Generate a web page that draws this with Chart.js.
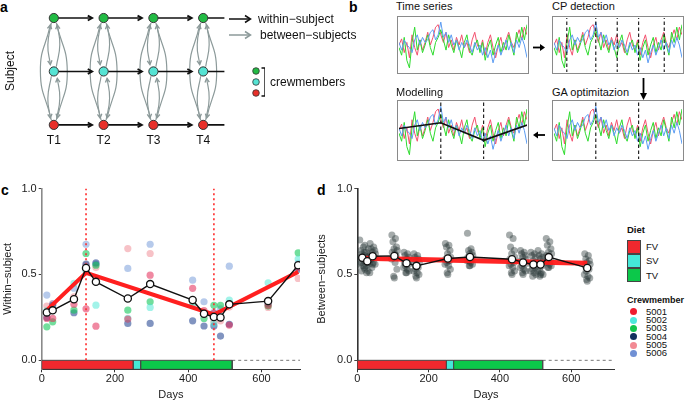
<!DOCTYPE html>
<html><head><meta charset="utf-8">
<script src="https://cdn.jsdelivr.net/npm/chart.js@4.4.1/dist/chart.umd.min.js"></script>
<style>
body{margin:0;width:685px;height:403px;position:relative;overflow:hidden;background:#fff;font-family:"Liberation Sans",Arial,sans-serif;color:#111}
.abs{position:absolute}
.t{position:absolute;font-size:11px;white-space:nowrap;line-height:12px;color:#111}
.pl{position:absolute;font-weight:bold;font-size:14px;line-height:14px;color:#000}
.mini{position:absolute;border:1px solid #8a8a8a;box-sizing:border-box;background:#fff}
.mini canvas{display:block}
.lgb{position:absolute;font-weight:bold;font-size:9px;line-height:10px;white-space:nowrap}
.lgt{position:absolute;font-size:9.5px;line-height:10px;white-space:nowrap}
.box{position:absolute;left:626.5px;width:14px;height:14px;border:1px solid #444;box-sizing:border-box}
.dot{position:absolute;width:7px;height:7px;border-radius:50%;left:630px}
</style></head><body>

<!-- panel letters -->
<div class="pl" style="left:0;top:0">a</div>
<div class="pl" style="left:349px;top:0">b</div>
<div class="pl" style="left:1px;top:183px">c</div>
<div class="pl" style="left:317px;top:183px">d</div>

<!-- panel a -->
<canvas id="ca" class="abs" width="230" height="170" style="left:0;top:0"></canvas>
<div class="t" style="left:10px;top:71px;font-size:12px;transform:translate(-50%,-50%) rotate(-90deg)">Subject</div>
<svg class="abs" style="left:225px;top:10px" width="40" height="95">
  <line x1="4" y1="9" x2="25" y2="9" stroke="#111" stroke-width="1.5"/>
  <polyline points="20,5.5 25.5,9 20,12.5" fill="none" stroke="#111" stroke-width="1.5"/>
  <line x1="4" y1="25" x2="25" y2="25" stroke="#8c9a9a" stroke-width="1.5"/>
  <polyline points="20,21.5 25.5,25 20,28.5" fill="none" stroke="#8c9a9a" stroke-width="1.5"/>
  <circle cx="31" cy="61" r="3.3" fill="#22bb44" stroke="#333" stroke-width="0.8"/>
  <circle cx="31" cy="72" r="3.3" fill="#55e3d3" stroke="#333" stroke-width="0.8"/>
  <circle cx="31" cy="83" r="3.3" fill="#e8302a" stroke="#333" stroke-width="0.8"/>
  <polyline points="36.5,58 40,58 40,86 36.5,86" fill="none" stroke="#111" stroke-width="1.4"/>
</svg>
<div class="t" style="left:258px;top:13px;font-size:12px">within−subject</div>
<div class="t" style="left:260px;top:29px;font-size:12px">between−subjects</div>
<div class="t" style="left:270px;top:76px;font-size:12px">crewmembers</div>

<!-- panel b -->
<div class="t" style="left:396px;top:0px">Time series</div>
<div class="t" style="left:552px;top:0px">CP detection</div>
<div class="t" style="left:396px;top:86px">Modelling</div>
<div class="t" style="left:552px;top:86px">GA optimitazion</div>
<div class="mini" style="left:396.5px;top:15.5px;width:132px;height:58px"><canvas id="b1" width="130" height="56"></canvas></div>
<div class="mini" style="left:552px;top:15.5px;width:132px;height:58px"><canvas id="b2" width="130" height="56"></canvas></div>
<div class="mini" style="left:396.5px;top:100px;width:132px;height:61px"><canvas id="b3" width="130" height="59"></canvas></div>
<div class="mini" style="left:552px;top:100px;width:132px;height:61px"><canvas id="b4" width="130" height="59"></canvas></div>
<svg class="abs" style="left:528px;top:38px" width="125" height="105">
  <line x1="5" y1="9.5" x2="14" y2="9.5" stroke="#000" stroke-width="1.8"/>
  <polygon points="12,6 17,9.5 12,13" fill="#000"/>
  <line x1="115.5" y1="40" x2="115.5" y2="57" stroke="#000" stroke-width="1.8"/>
  <polygon points="112,55 115.5,62 119,55" fill="#000"/>
  <line x1="8" y1="97" x2="17" y2="97" stroke="#000" stroke-width="1.8"/>
  <polygon points="10,93.5 5,97 10,100.5" fill="#000"/>
</svg>

<!-- panel c / d -->
<canvas id="cc" class="abs" width="315" height="223" style="left:0;top:180px"></canvas>
<canvas id="cd" class="abs" width="305" height="223" style="left:315px;top:180px"></canvas>

<!-- legend d -->
<div class="lgb" style="left:627px;top:225px;font-size:9.5px">Diet</div>
<div class="box" style="top:240px;background:#f0282e"></div>
<div class="box" style="top:254px;background:#44e8d8"></div>
<div class="box" style="top:268px;background:#0cc84a"></div>
<div class="lgt" style="left:646px;top:242px">FV</div>
<div class="lgt" style="left:646px;top:256px">SV</div>
<div class="lgt" style="left:646px;top:270.5px">TV</div>
<div class="lgb" style="left:627px;top:295px">Crewmember</div>
<div class="dot" style="top:308.2px;background:#ee1c2e"></div>
<div class="dot" style="top:316.5px;background:#4ee8dc"></div>
<div class="dot" style="top:324.8px;background:#12c44c"></div>
<div class="dot" style="top:333.2px;background:#12305e"></div>
<div class="dot" style="top:341.5px;background:#f28a94"></div>
<div class="dot" style="top:349.8px;background:#7090d4"></div>
<div class="lgt" style="left:646px;top:306.7px">5001</div>
<div class="lgt" style="left:646px;top:315px">5002</div>
<div class="lgt" style="left:646px;top:323.3px">5003</div>
<div class="lgt" style="left:646px;top:331.7px">5004</div>
<div class="lgt" style="left:646px;top:340px">5005</div>
<div class="lgt" style="left:646px;top:348.3px">5006</div>

<script>
// ---------------- DATA ----------------
// panel a
const timePoints = ['T1', 'T2', 'T3', 'T4'];
const subjectLevels = [1, 2, 3];
const aArcs = [[1, 3, -0.27], [3, 2, -0.12], [2, 1, -0.12], [3, 1, 0.27], [1, 2, 0.12], [2, 3, 0.12]];

// panel b (the same three time series in every box)
const seriesRed = [0.5,0.62,0.35,0.55,0.25,0.7,0.45,0.3,0.6,0.4,0.55,0.75,0.5,0.65,0.85,0.9,0.7,0.55,0.75,0.45,0.6,0.4,0.65,0.5,0.7,0.45,0.55,0.35,0.6,0.75,0.5,0.4,0.6,0.3,0.55,0.7,0.45,0.25,0.5,0.65,0.4,0.6,0.75,0.55,0.45,0.65,0.8,0.6,0.85,0.7];
const seriesGreen = [0.45,0.3,0.65,0.2,0.05,0.55,0.85,0.4,0.6,0.35,0.5,0.7,0.45,0.3,0.55,0.65,0.8,0.6,0.4,0.7,0.5,0.35,0.6,0.45,0.25,0.55,0.7,0.4,0.3,0.5,0.6,0.35,0.55,0.2,0.45,0.6,0.3,0.5,0.65,0.35,0.55,0.4,0.7,0.5,0.3,0.75,0.55,0.85,0.6,0.9];
const seriesBlue = [0.55,0.4,0.6,0.5,0.45,0.35,0.6,0.7,0.5,0.65,0.55,0.6,0.75,0.8,0.6,0.7,0.95,0.65,0.75,0.55,0.7,0.5,0.6,0.4,0.55,0.45,0.6,0.5,0.35,0.55,0.4,0.5,0.3,0.45,0.25,0.4,0.15,0.35,0.5,0.3,0.45,0.6,0.4,0.55,0.35,0.6,0.45,0.65,0.5,0.25];
const cpCandidates = [4.9, 16, 24.2, 32.4, 42.2];
const cpSelected = [16, 32.4];
const modelX = [0, 16, 32.4, 49];
const modelY = [0.536, 0.645, 0.317, 0.601];

// panel c (within-subject)
const cDays = [14, 30, 88, 121, 148, 235, 296, 412, 443, 470, 488, 512, 618, 700];
const cMean = [0.279, 0.291, 0.356, 0.538, 0.457, 0.360, 0.444, 0.351, 0.271, 0.252, 0.250, 0.326, 0.345, 0.554];
const crewIds = ['5001', '5002', '5003', '5004', '5005', '5006'];
const c5001 = [0.244, 0.244, 0.327, 0.300, 0.199, 0.240, 0.496, 0.419, 0.290, 0.273, 0.250, 0.205, 0.320, 0.540];
const c5002 = [0.290, 0.300, 0.448, 0.520, 0.321, 0.244, 0.308, 0.330, 0.280, 0.215, 0.260, 0.350, 0.451, 0.590];
const c5003 = [0.195, 0.224, 0.292, 0.622, 0.554, 0.292, 0.341, 0.345, 0.244, 0.320, 0.320, 0.330, 0.316, 0.626];
const c5004 = [0.250, 0.320, 0.277, 0.560, 0.567, 0.215, 0.215, 0.230, 0.200, 0.200, 0.141, 0.210, 0.330, 0.530];
const c5005 = [0.316, 0.327, 0.370, 0.554, 0.540, 0.651, 0.622, 0.320, 0.270, 0.225, 0.230, 0.310, 0.308, 0.477];
const c5006 = [0.380, 0.330, 0.420, 0.676, 0.560, 0.535, 0.676, 0.467, 0.341, 0.280, 0.300, 0.548, 0.345, 0.565];
const cFitDays = [14, 121, 470, 700];
const cFitVals = [0.292, 0.510, 0.267, 0.515];
const cBreaks = [121, 470];

// diet periods
const dietNames = ['FV', 'SV', 'TV'];
const dietStart = [0, 250, 270];
const dietEnd = [250, 270, 520];

// panel d (between-subjects)
const dDays = [14, 28, 43, 104, 138, 166, 254, 316, 434, 465, 494, 514, 537, 645];
const dMean = [0.597, 0.577, 0.606, 0.608, 0.566, 0.550, 0.593, 0.602, 0.589, 0.570, 0.558, 0.558, 0.601, 0.538];
const dVals = [
  [0.70,0.66,0.64,0.63,0.62,0.61,0.60,0.59,0.58,0.57,0.56,0.55,0.53,0.52,0.60],
  [0.67,0.65,0.63,0.61,0.60,0.59,0.58,0.57,0.56,0.55,0.54,0.52,0.51,0.51,0.57],
  [0.68,0.66,0.65,0.64,0.63,0.62,0.61,0.60,0.60,0.59,0.58,0.57,0.56,0.54,0.56],
  [0.73,0.71,0.69,0.66,0.65,0.64,0.63,0.62,0.61,0.60,0.59,0.57,0.53,0.49,0.48],
  [0.63,0.62,0.61,0.60,0.59,0.58,0.57,0.57,0.56,0.55,0.54,0.53,0.52,0.51,0.51],
  [0.62,0.61,0.60,0.59,0.58,0.57,0.56,0.55,0.54,0.53,0.52,0.51,0.50,0.49,0.48],
  [0.68,0.67,0.66,0.64,0.62,0.60,0.59,0.58,0.58,0.57,0.56,0.55,0.53,0.51,0.50],
  [0.74,0.65,0.64,0.63,0.62,0.61,0.60,0.60,0.59,0.58,0.58,0.57,0.56,0.55,0.55],
  [0.73,0.71,0.66,0.64,0.62,0.60,0.59,0.58,0.57,0.56,0.55,0.54,0.52,0.51,0.50],
  [0.64,0.63,0.62,0.61,0.60,0.59,0.58,0.57,0.56,0.55,0.54,0.53,0.52,0.51,0.50],
  [0.63,0.62,0.61,0.60,0.58,0.57,0.56,0.55,0.54,0.53,0.52,0.51,0.50,0.49,0.56],
  [0.64,0.62,0.61,0.60,0.59,0.58,0.57,0.56,0.55,0.53,0.52,0.51,0.50,0.49,0.50],
  [0.71,0.69,0.67,0.65,0.63,0.62,0.61,0.60,0.59,0.58,0.57,0.56,0.55,0.54,0.54],
  [0.62,0.61,0.59,0.58,0.57,0.56,0.55,0.54,0.53,0.52,0.50,0.49,0.48,0.47,0.46]
];
const dJitter = [-7, 3, -4, 6, -1, 8, -6, 1, 5, -3, -8, 2, 7, -2, 0];
const dFitDays = [14, 645];
const dFitVals = [0.595, 0.565];

const xTicks = [0, 200, 400, 600];
const yTicks = [0, 0.5, 1.0];

// ---------------- STYLE ----------------
const F = "'Liberation Sans', Arial, sans-serif";
Chart.defaults.font.family = F;
Chart.defaults.animation = false;
Chart.defaults.plugins.legend.display = false;
Chart.defaults.plugins.tooltip.enabled = false;

const nodeColors = {1: '#e8302a', 2: '#55e3d3', 3: '#22bb44'};
const crewDot = {
  '5001': 'rgba(228,40,85,0.55)', '5002': 'rgba(70,232,212,0.5)', '5003': 'rgba(20,200,90,0.6)',
  '5004': 'rgba(25,60,140,0.55)', '5005': 'rgba(238,120,130,0.45)', '5006': 'rgba(110,150,215,0.5)'
};
const dietColors = ['#f0282e', '#44e8d8', '#0cc84a'];

// ---------------- PANEL A ----------------
const arrowPlugin = {
  id: 'arrowheads',
  afterDatasetsDraw(chart) {
    const ctx = chart.ctx;
    chart.data.datasets.forEach((ds, i) => {
      if (!ds.arrow) return;
      const pts = chart.getDatasetMeta(i).data;
      const p = pts[pts.length - 1];
      let fx = p.cp1x, fy = p.cp1y;
      if (fx === undefined || (Math.abs(fx - p.x) < 0.01 && Math.abs(fy - p.y) < 0.01)) {
        fx = pts[pts.length - 2].x; fy = pts[pts.length - 2].y;
      }
      const ang = Math.atan2(p.y - fy, p.x - fx);
      const L = ds.arrowSize || 4.5, w = 0.5;
      ctx.save();
      ctx.strokeStyle = ds.borderColor; ctx.lineWidth = ds.borderWidth + 0.2;
      ctx.beginPath();
      ctx.moveTo(p.x - L * Math.cos(ang - w), p.y - L * Math.sin(ang - w));
      ctx.lineTo(p.x, p.y);
      ctx.lineTo(p.x - L * Math.cos(ang + w), p.y - L * Math.sin(ang + w));
      ctx.stroke();
      ctx.restore();
    });
    // time labels
    const xs = chart.scales.x, ys = chart.scales.y;
    ctx.save();
    ctx.font = '12px ' + F; ctx.fillStyle = '#111'; ctx.textAlign = 'center'; ctx.textBaseline = 'middle';
    timePoints.forEach((t, k) => ctx.fillText(t, xs.getPixelForValue(k + 1), ys.getPixelForValue(0.7)));
    ctx.restore();
  }
};

const aDatasets = [];
// nodes (top-most)
aDatasets.push({
  data: timePoints.flatMap((t, k) => subjectLevels.map(s => ({x: k + 1, y: s}))),
  pointRadius: 4.6, pointBackgroundColor: timePoints.flatMap(() => subjectLevels.map(s => nodeColors[s])),
  pointBorderColor: '#333', pointBorderWidth: 1, showLine: false, order: 0
});
// within-subject arrows
timePoints.forEach((t, k) => {
  subjectLevels.forEach(s => {
    aDatasets.push({
      data: [{x: k + 1 + 0.09, y: s}, {x: k + 1 + 0.77, y: s}],
      showLine: true, borderColor: '#111', borderWidth: 1.6, pointRadius: 0, arrow: true, arrowSize: 5, order: 2
    });
  });
});
// between-subjects arcs
timePoints.forEach((t, k) => {
  const c = k + 1;
  aArcs.forEach(([from, to, bulge]) => {
    const s = Math.sign(bulge), dir = Math.sign(to - from);
    aDatasets.push({
      data: [
        {x: c + s * 0.05, y: from + dir * 0.09},
        {x: c + bulge, y: (from + to) / 2},
        {x: c + s * 0.07, y: to - dir * 0.13}
      ],
      showLine: true, borderColor: '#8c9a9a', borderWidth: 1.2, pointRadius: 0, tension: 0.5,
      arrow: true, arrowSize: 4.5, order: 3
    });
  });
});
new Chart(document.getElementById('ca'), {
  type: 'scatter',
  data: {datasets: aDatasets},
  options: {
    responsive: false, layout: {padding: 0},
    scales: {
      x: {display: false, min: 0.0312, max: 4.426},
      y: {display: false, min: 0.2605, max: 3.2325}
    }
  },
  plugins: [arrowPlugin]
});

// ---------------- PANEL B ----------------
function miniChart(id, vlines, withModel) {
  const ds = [];
  if (withModel) {
    ds.push({data: modelX.map((x, i) => ({x, y: modelY[i]})), borderColor: '#111', borderWidth: 1.6});
  }
  vlines.forEach(v => ds.push({data: [{x: v, y: -0.05}, {x: v, y: 1.05}], borderColor: '#111', borderWidth: 1.1, borderDash: [3.5, 2.5]}));
  ds.push({data: seriesBlue.map((v, i) => ({x: i, y: v})), borderColor: '#5c9cf2', borderWidth: 1});
  ds.push({data: seriesGreen.map((v, i) => ({x: i, y: v})), borderColor: '#2edb2e', borderWidth: 1});
  ds.push({data: seriesRed.map((v, i) => ({x: i, y: v})), borderColor: '#f2506e', borderWidth: 1});
  ds.forEach(d => { d.showLine = true; d.pointRadius = 0; d.tension = 0; });
  new Chart(document.getElementById(id), {
    type: 'scatter',
    data: {datasets: ds},
    options: {
      responsive: false, layout: {padding: {left: 1, right: 1, top: 1, bottom: 1}},
      scales: {x: {display: false, min: 0, max: 49}, y: {display: false, min: -0.03, max: 1.03}}
    }
  });
}
miniChart('b1', [], false);
miniChart('b2', cpCandidates, false);
miniChart('b3', cpSelected, true);
miniChart('b4', cpSelected, false);

// ---------------- PANEL C / D ----------------
const yMin = -0.0523;
function dietDatasets(xMax) {
  const out = [];
  dietNames.forEach((n, i) => {
    out.push({
      data: [{x: dietStart[i], y: 0}, {x: dietEnd[i], y: 0}, {x: dietEnd[i], y: yMin}, {x: dietStart[i], y: yMin}, {x: dietStart[i], y: 0}],
      showLine: true, fill: 'shape', backgroundColor: dietColors[i], borderColor: '#4a4a4a', borderWidth: 1,
      pointRadius: 0, tension: 0, order: 8
    });
  });
  out.push({
    data: [{x: dietEnd[dietEnd.length - 1], y: 0}, {x: xMax, y: 0}],
    showLine: true, borderColor: '#777', borderWidth: 1, borderDash: [3, 3], pointRadius: 0, order: 9
  });
  return out;
}
function axes(xMax, yTitle, yWidth, titlePad, borderCol) {
  return {
    x: {
      type: 'linear', min: 0, max: xMax,
      afterBuildTicks: ax => { ax.ticks = xTicks.map(v => ({value: v})); },
      afterFit: ax => { ax.height = 33.7; },
      ticks: {font: {size: 11}, color: '#1a1a1a', padding: 0, maxRotation: 0, autoSkip: false, callback: v => String(v)},
      grid: {drawOnChartArea: false, drawTicks: true, tickLength: 3, color: '#333'},
      border: {display: true, color: '#333', width: 1},
      title: {display: true, text: 'Days', font: {size: 11}, color: '#1a1a1a', padding: {top: 0, bottom: 1.4}}
    },
    y: {
      min: yMin, max: 1,
      afterBuildTicks: ax => { ax.ticks = yTicks.map(v => ({value: v})); },
      afterFit: ax => { ax.width = yWidth; },
      ticks: {font: {size: 11}, color: '#1a1a1a', padding: 2, callback: v => Number(v).toFixed(1)},
      grid: {drawOnChartArea: false, drawTicks: true, tickLength: 3, color: '#444'},
      border: {display: true, color: borderCol, width: 1.6},
      title: {display: true, text: yTitle, font: {size: 11}, color: '#1a1a1a', padding: {top: titlePad, bottom: 0}}
    }
  };
}

// panel c
const cMax = 705;
const crewArrays = [c5001, c5002, c5003, c5004, c5005, c5006];
const cSets = [];
cSets.push({
  data: cDays.map((d, i) => ({x: d, y: cMean[i]})), showLine: true, borderColor: '#111', borderWidth: 1.4,
  pointRadius: 3.6, pointBackgroundColor: '#fff', pointBorderColor: '#111', pointBorderWidth: 1.3, order: 0
});
cSets.push({
  data: cFitDays.map((d, i) => ({x: d, y: cFitVals[i]})), showLine: true, borderColor: '#ff1f1f', borderWidth: 4,
  pointRadius: 0, order: 1
});
cBreaks.forEach(b => cSets.push({
  data: [{x: b, y: 0}, {x: b, y: 1}], showLine: true, borderColor: '#ff2a2a', borderWidth: 1.6, borderDash: [2, 3],
  pointRadius: 0, order: 4
}));
crewIds.forEach((id, j) => cSets.push({
  data: cDays.map((d, i) => ({x: d, y: crewArrays[j][i]})), showLine: false,
  pointRadius: 3.6, pointBackgroundColor: crewDot[id], pointBorderWidth: 0, order: 5
}));
dietDatasets(cMax).forEach(d => cSets.push(d));
new Chart(document.getElementById('cc'), {
  type: 'scatter',
  data: {datasets: cSets},
  options: {
    responsive: false,
    layout: {padding: {top: 8.3, right: 15, left: 0, bottom: 0}},
    scales: axes(cMax, 'Within−subject', 41.7, 1.7, '#8a8a8a')
  }
});

// panel d
const dMax = 722;
const dSets = [];
dSets.push({
  data: dDays.map((d, i) => ({x: d, y: dMean[i]})), showLine: true, borderColor: '#111', borderWidth: 1.4,
  pointRadius: 3.6, pointBackgroundColor: '#fff', pointBorderColor: '#111', pointBorderWidth: 1.3, order: 0
});
dSets.push({
  data: dFitDays.map((d, i) => ({x: d, y: dFitVals[i]})), showLine: true, borderColor: 'rgba(255,25,25,0.95)', borderWidth: 5,
  pointRadius: 0, order: 1
});
dSets.push({
  data: dDays.flatMap((d, i) => dVals[i].map((v, j) => ({x: d + dJitter[j], y: v}))), showLine: false,
  pointRadius: 3.5, pointBackgroundColor: 'rgba(40,55,55,0.42)', pointBorderWidth: 0, order: 5
});
dietDatasets(dMax).forEach(d => dSets.push(d));
new Chart(document.getElementById('cd'), {
  type: 'scatter',
  data: {datasets: dSets},
  options: {
    responsive: false,
    layout: {padding: {top: 8.3, right: 4, left: 0, bottom: 0}},
    scales: axes(dMax, 'Between−subjects', 42.3, 0, '#333')
  }
});
</script>
</body></html>
